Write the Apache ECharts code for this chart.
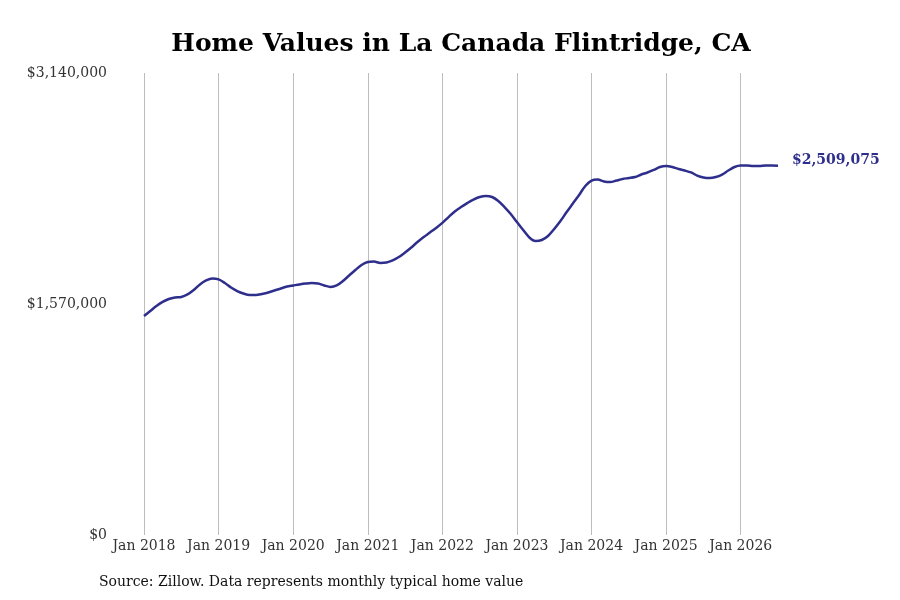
<!DOCTYPE html>
<html>
<head>
<meta charset="utf-8">
<title>Home Values in La Canada Flintridge, CA</title>
<script src="https://cdn.jsdelivr.net/npm/echarts@6/dist/echarts.min.js"></script>
<style>
  html, body { margin: 0; padding: 0; background: #fff; }
  #chart { width: 900px; height: 600px; }
</style>
</head>
<body>
<div id="chart"></div>
<script>
// monthly typical home value, Jan 2018 .. Jul 2026
var startYear = 2018;
var values = [
  1488000, 1522000, 1556000, 1584000, 1604000, 1614000, 1618000, 1635000, 1665000, 1703000, 1730000, 1743000,
  1737000, 1713000, 1682000, 1658000, 1641000, 1631000, 1631000, 1638000, 1648000, 1662000, 1675000, 1689000,
  1696000, 1703000, 1709000, 1713000, 1709000, 1696000, 1686000, 1696000, 1726000, 1764000, 1801000, 1835000,
  1855000, 1859000, 1849000, 1852000, 1866000, 1889000, 1920000, 1954000, 1991000, 2025000, 2056000, 2087000,
  2121000, 2161000, 2199000, 2229000, 2256000, 2280000, 2297000, 2304000, 2297000, 2270000, 2229000, 2182000,
  2127000, 2073000, 2022000, 1998000, 2005000, 2032000, 2080000, 2134000, 2195000, 2253000, 2311000, 2372000,
  2409000, 2416000, 2403000, 2399000, 2409000, 2420000, 2426000, 2433000, 2450000, 2464000, 2481000, 2501000,
  2508000, 2501000, 2488000, 2477000, 2464000, 2443000, 2430000, 2426000, 2433000, 2450000, 2477000, 2501000,
  2511000, 2511000, 2508000, 2508000, 2511000, 2511000, 2509075
];
var monthNames = ['Jan','Feb','Mar','Apr','May','Jun','Jul','Aug','Sep','Oct','Nov','Dec'];
var yTicks = [0, 1570000, 3140000];

var months = values.map(function(v, i) {
  return monthNames[i % 12] + ' ' + (startYear + Math.floor(i / 12));
});

function money(v) {
  return '$' + Math.round(v).toString().replace(/\B(?=(\d{3})+(?!\d))/g, ',');
}

var chart = echarts.init(document.getElementById('chart'));
chart.setOption({
  animation: false,
  textStyle: { fontFamily: 'DejaVu Serif' },
  title: [{
    text: 'Home Values in La Canada Flintridge, CA',
    left: 456,
    top: 27,
    textAlign: 'center',
    textStyle: { fontFamily: 'DejaVu Serif', fontWeight: 'bold', fontSize: 25, color: '#000' }
  }, {
    text: 'Source: Zillow. Data represents monthly typical home value',
    left: 94,
    top: 570,
    textStyle: { fontFamily: 'DejaVu Serif', fontWeight: 'normal', fontSize: 14, color: '#111' }
  }],
  grid: { left: 144, right: 122, top: 73, bottom: 65 },
  xAxis: {
    type: 'category',
    data: months,
    boundaryGap: false,
    axisLine: { show: false },
    axisTick: { show: false },
    axisLabel: {
      interval: 11,
      margin: 4,
      color: '#333',
      fontSize: 14,
      fontFamily: 'DejaVu Serif'
    },
    splitLine: { show: true, interval: 11, lineStyle: { color: '#bdbdbd', width: 1 } }
  },
  yAxis: {
    type: 'value',
    min: yTicks[0],
    max: yTicks[2],
    interval: yTicks[1],
    axisLine: { show: false },
    axisTick: { show: false },
    splitLine: { show: false },
    axisLabel: {
      margin: 37,
      color: '#333',
      fontSize: 14,
      fontFamily: 'DejaVu Serif',
      formatter: money
    }
  },
  series: [{
    type: 'line',
    data: values,
    smooth: 0.3,
    symbol: 'none',
    lineStyle: { color: '#2e2e8c', width: 2.5 },
    endLabel: {
      show: true,
      distance: 14,
      offset: [0, -5],
      formatter: function(p) { return money(p.value); },
      color: '#2e2e8c',
      fontWeight: 'bold',
      fontSize: 14,
      fontFamily: 'DejaVu Serif'
    }
  }]
});
</script>
</body>
</html>
